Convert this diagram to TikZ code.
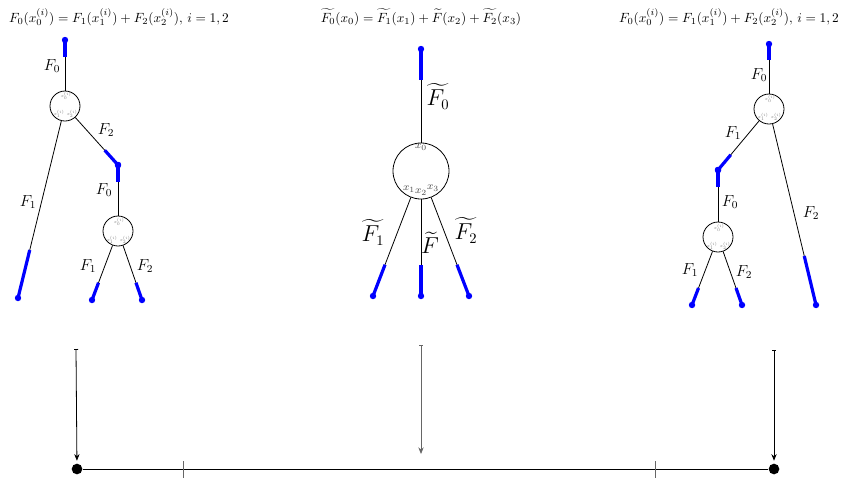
\documentclass[tikz,border=0pt]{standalone}
\usepackage{amsmath,amssymb}
\usepackage{xcolor}
\usepackage{tikz}
\usetikzlibrary{arrows.meta,calc}
\definecolor{leafblue}{HTML}{0000FF}
\tikzset{
  % vertex of a tree, and the bigger one in the middle
  vtx/.style    = {circle, draw, semithick, minimum size=22.5pt, inner sep=0pt},
  bigvtx/.style = {vtx, minimum size=42pt},
  leg/.style    = {semithick},
  tip/.style    = {leafblue, line width=2.4pt},
  lbl/.style    = {font=\large, inner sep=1pt},
  biglbl/.style = {font=\fontsize{16}{18}\selectfont, inner sep=1pt},
  sub/.style    = {font=\tiny, text=gray, scale=0.65, inner sep=0pt},
  slot/.style   = {font=\footnotesize, text=black!70, inner sep=0pt},
  drop/.style   = {{Bar[width=3pt]}-{Stealth[length=5pt,width=4pt]}, semithick},
  tick/.style   = {black!60, semithick},
}
\newcommand{\leaf}{\fill[leafblue]}

\begin{document}
\begin{tikzpicture}[x=0.75pt,y=-0.75pt]
\useasboundingbox (0,0) rectangle (841,480);
% ---- titles ---------------------------------------------------------
\node[font=\normalsize] (tl) at (119,17) {$F_0(x_0^{(i)})=F_1(x_1^{(i)})+F_2(x_2^{(i)}),\, i=1,2$};
\node[font=\normalsize] (tm) at (421,17) {$\widetilde{F_0}(x_0)=\widetilde{F_1}(x_1)+\widetilde{F}(x_2)+\widetilde{F_2}(x_3)$};
\node[font=\normalsize] (tr) at (729,17) {$F_0(x_0^{(i)})=F_1(x_1^{(i)})+F_2(x_2^{(i)}),\, i=1,2$};

% ---- left tree ------------------------------------------------------
\coordinate (Ltop) at (65,40);
\node[vtx] (L1) at (65,106) {};
\coordinate (Lleaf1) at (18,298);
\coordinate (Lmid) at (118,165);
\node[vtx] (L2) at (118,231) {};
\coordinate (Lleaf2) at (92,300);
\coordinate (Lleaf3) at (142,300);
\node[sub] (L1a) at (66,96) {$x_0^{(i)}$};
\node[sub] (L1b) at (59,114) {$x_1^{(i)}$};
\node[sub] (L1c) at (72,114) {$x_2^{(i)}$};
\node[sub] (L2a) at (119,222) {$x_0^{(i)}$};
\node[sub] (L2b) at (112,240) {$x_1^{(i)}$};
\node[sub] (L2c) at (125,240) {$x_2^{(i)}$};
\node[lbl] at (52,66) {$F_0$};
\node[lbl] at (28,202) {$F_1$};
\node[lbl] at (106,130) {$F_2$};
\node[lbl] at (104,190) {$F_0$};
\node[lbl] at (88,266) {$F_1$};
\node[lbl] at (145,266) {$F_2$};

% ---- middle tree ----------------------------------------------------
\coordinate (Mtop) at (421,49);
\node[bigvtx] (M) at (421,171) {};
\coordinate (Mleaf1) at (373,296);
\coordinate (Mleaf2) at (421,296);
\coordinate (Mleaf3) at (469,296);
\node[slot] (Ma) at (421,147) {$x_0$};
\node[slot] (Mb) at (409,189) {$x_1$};
\node[slot] (Mc) at (421,192) {$x_2$};
\node[slot] (Md) at (433,188) {$x_3$};
\node[biglbl] at (438,96) {$\widetilde{F_0}$};
\node[biglbl] at (373,232) {$\widetilde{F_1}$};
\node[biglbl] at (430,243) {$\widetilde{F}$};
\node[biglbl] at (466,230) {$\widetilde{F_2}$};

% ---- right tree -----------------------------------------------------
\coordinate (Rtop) at (769,44);
\node[vtx] (R1) at (769,109) {};
\coordinate (Rmid) at (718,170);
\node[vtx] (R2) at (718,237) {};
\coordinate (Rleaf1) at (692,305);
\coordinate (Rleaf2) at (742,305);
\coordinate (Rleaf3) at (816,305);
\node[sub] (R1a) at (770,99) {$x_0^{(i)}$};
\node[sub] (R1b) at (763,117) {$x_1^{(i)}$};
\node[sub] (R1c) at (776,117) {$x_2^{(i)}$};
\node[sub] (R2a) at (719,228) {$x_0^{(i)}$};
\node[sub] (R2b) at (712,246) {$x_1^{(i)}$};
\node[sub] (R2c) at (725,246) {$x_2^{(i)}$};
\node[lbl] at (759,75) {$F_0$};
\node[lbl] at (733,133) {$F_1$};
\node[lbl] at (730,202) {$F_0$};
\node[lbl] at (690,270) {$F_1$};
\node[lbl] at (744,272) {$F_2$};
\node[lbl] at (811,213) {$F_2$};

% ---- legs, blue ends ------------------------------------------------
\foreach \s/\e in {L1/Ltop, L1/Lleaf1, L1/Lmid, L2/Lmid, L2/Lleaf2, L2/Lleaf3,
                   M/Mtop, M/Mleaf1, M/Mleaf2, M/Mleaf3,
                   R1/Rtop, R1/Rmid, R1/Rleaf3, R2/Rmid, R2/Rleaf1, R2/Rleaf2} {
  \draw[leg] (\s) -- (\e);
  \draw[tip] (\e) -- ($(\e)!0.25!(\s)$);
  \leaf (\e) circle (2.4pt);
}

% ---- bottom line ----------------------------------------------------
\node[circle, fill, inner sep=0pt, minimum size=8pt] (A) at (77,469) {};
\node[circle, fill, inner sep=0pt, minimum size=8pt] (B) at (774,469) {};
\draw[semithick] (A) -- (B);
\foreach \x in {183,655}
  \draw[tick] (\x,461) -- (\x,478);
\coordinate (dl) at (76,349);
\coordinate (dm) at (421,345);
\coordinate (dr) at (774,350);
\coordinate (hm) at (421,454);
\draw[drop, shorten >=2pt] (dl) -- (A);
\draw[drop, black!60] (dm) -- (hm);
\draw[drop, shorten >=2pt] (dr) -- (B);
\end{tikzpicture}
\end{document}
